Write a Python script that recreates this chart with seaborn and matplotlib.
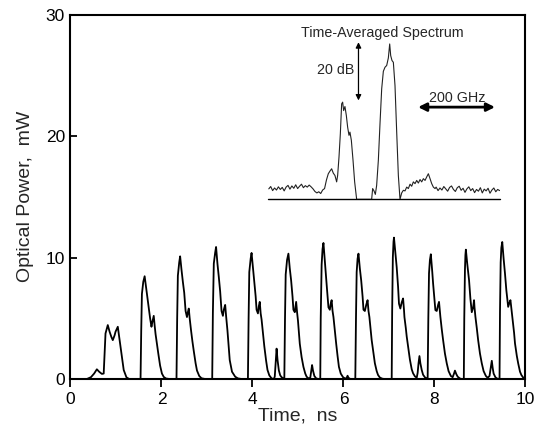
import matplotlib
matplotlib.use("Agg")
import matplotlib.pyplot as plt
import seaborn as sns
import pandas as pd

# pulse train, time in ns and optical power in mW
t_ns = [0.0, 0.36, 0.45, 0.52, 0.58, 0.63, 0.69, 0.73, 0.77, 0.82, 0.86, 0.90, 0.93, 0.97, 0.99, 1.04, 1.07, 1.12, 1.17, 1.23, 1.29,
        1.54, 1.555, 1.57, 1.60, 1.63, 1.66, 1.69, 1.72, 1.75, 1.78, 1.80, 1.83, 1.85, 1.87, 1.90, 1.93, 1.97, 2.01, 2.05, 2.10, 2.18,
        2.33, 2.345, 2.36, 2.39, 2.41, 2.44, 2.47, 2.50, 2.53, 2.56, 2.58, 2.60, 2.62, 2.65, 2.68, 2.71, 2.75, 2.78, 2.83, 2.88, 2.96,
        3.115, 3.13, 3.15, 3.18, 3.20, 3.23, 3.26, 3.29, 3.32, 3.35, 3.37, 3.40, 3.42, 3.45, 3.48, 3.50, 3.55, 3.62, 3.68, 3.76,
        3.90, 3.915, 3.93, 3.96, 3.98, 4.01, 4.04, 4.07, 4.09, 4.12, 4.14, 4.16, 4.18, 4.20, 4.23, 4.26, 4.30, 4.33, 4.37, 4.42, 4.47,
        4.49, 4.51, 4.53, 4.55, 4.58, 4.61, 4.64, 4.68,
        4.70, 4.715, 4.73, 4.76, 4.79, 4.82, 4.85, 4.88, 4.90, 4.93, 4.95, 4.96, 4.98, 5.00, 5.04, 5.08, 5.12, 5.16, 5.19, 5.23,
        5.27, 5.29, 5.31, 5.33, 5.36, 5.40, 5.45,
        5.49, 5.50, 5.52, 5.54, 5.56, 5.59, 5.61, 5.64, 5.67, 5.70, 5.72, 5.74, 5.76, 5.78, 5.81, 5.84, 5.87, 5.90, 5.94, 5.99, 6.04,
        6.07, 6.09, 6.11, 6.15,
        6.26, 6.275, 6.29, 6.31, 6.33, 6.36, 6.39, 6.42, 6.44, 6.47, 6.50, 6.53, 6.55, 6.57, 6.60, 6.62, 6.66, 6.69, 6.73, 6.76, 6.80, 6.85, 6.90,
        7.06, 7.07, 7.085, 7.10, 7.11, 7.14, 7.17, 7.20, 7.22, 7.25, 7.28, 7.31, 7.33, 7.34, 7.37, 7.39, 7.43, 7.46, 7.50, 7.53, 7.57, 7.61,
        7.63, 7.65, 7.67, 7.69, 7.72, 7.75, 7.79, 7.83,
        7.85, 7.865, 7.88, 7.90, 7.92, 7.95, 7.97, 8.00, 8.02, 8.05, 8.08, 8.10, 8.12, 8.13, 8.16, 8.19, 8.23, 8.27, 8.31, 8.36, 8.40,
        8.43, 8.45, 8.48, 8.51, 8.56, 8.60,
        8.645, 8.655, 8.67, 8.68, 8.69, 8.72, 8.76, 8.79, 8.82, 8.85, 8.87, 8.88, 8.90, 8.93, 8.96, 9.00, 9.04, 9.08, 9.13, 9.17,
        9.21, 9.24, 9.26, 9.28, 9.30, 9.34, 9.38, 9.42,
        9.43, 9.44, 9.455, 9.47, 9.49, 9.52, 9.55, 9.58, 9.62, 9.65, 9.67, 9.70, 9.72, 9.75, 9.77, 9.81, 9.84, 9.88, 9.91, 9.95, 9.99, 10.0]
power_mw = [0, 0, 0.15, 0.45, 0.8, 0.6, 0.42, 0.45, 3.75, 4.44, 3.89, 3.45, 3.2, 3.6, 3.89, 4.3, 3.47, 2.11, 0.74, 0.14, 0,
            0, 4.0, 7.0, 8.0, 8.46, 7.6, 6.7, 5.9, 5.0, 4.3, 4.7, 5.2, 4.4, 3.7, 2.9, 2.1, 1.1, 0.45, 0.17, 0.04, 0,
            0, 5.0, 8.5, 9.6, 10.1, 9.0, 8.0, 7.1, 5.6, 5.1, 5.5, 5.8, 5.0, 4.0, 3.1, 2.3, 1.3, 0.7, 0.25, 0.06, 0,
            0, 5.5, 9.5, 10.4, 10.87, 9.5, 8.4, 7.2, 5.6, 5.2, 5.7, 6.1, 5.2, 4.0, 2.6, 1.56, 0.6, 0.19, 0.05, 0,
            0, 5.0, 8.8, 9.9, 10.38, 9.2, 8.1, 6.8, 5.7, 5.4, 6.0, 6.35, 5.4, 4.9, 3.8, 2.7, 1.5, 0.75, 0.3, 0.05, 0,
            0.2, 1.4, 2.5, 1.6, 0.7, 0.3, 0.15, 0.05,
            0, 5.0, 8.6, 9.8, 10.32, 9.1, 8.1, 6.8, 5.7, 5.5, 6.1, 6.35, 5.5, 4.8, 2.9, 1.8, 1.0, 0.45, 0.19, 0.05,
            0.1, 0.6, 1.15, 0.7, 0.25, 0.05, 0,
            0, 5.0, 9.4, 10.7, 11.2, 9.7, 8.7, 7.3, 5.9, 5.7, 6.2, 6.49, 5.6, 5.1, 4.0, 2.9, 1.9, 1.0, 0.45, 0.15, 0.03,
            0.1, 0.27, 0.1, 0,
            0, 5.0, 8.8, 9.9, 10.32, 9.1, 8.1, 6.8, 5.7, 5.6, 6.1, 6.49, 5.6, 5.1, 4.0, 3.2, 2.1, 1.3, 0.65, 0.33, 0.12, 0.03, 0,
            0, 5.5, 10.0, 11.3, 11.64, 10.4, 9.2, 7.6, 6.2, 5.8, 6.3, 6.63, 5.7, 5.1, 4.2, 3.5, 2.4, 1.6, 0.8, 0.47, 0.22, 0.11,
            0.5, 1.3, 1.89, 1.3, 0.74, 0.35, 0.14, 0.03,
            0, 5.0, 8.7, 9.8, 10.27, 8.9, 7.86, 6.6, 5.67, 5.6, 6.1, 6.35, 5.5, 5.12, 4.1, 3.2, 2.1, 1.29, 0.65, 0.25, 0.15,
            0.45, 0.69, 0.4, 0.19, 0.04, 0,
            0, 5.0, 9.0, 10.2, 10.65, 9.5, 8.14, 6.6, 5.5, 5.9, 6.49, 5.9, 5.12, 4.2, 3.2, 2.1, 1.29, 0.65, 0.25, 0.1,
            0.25, 1.0, 1.5, 0.9, 0.45, 0.14, 0.03, 0,
            0, 5.5, 9.6, 10.8, 11.28, 9.9, 8.68, 7.3, 5.94, 6.3, 6.49, 5.5, 4.85, 3.8, 2.93, 1.9, 1.29, 0.6, 0.33, 0.12, 0.05, 0.03]

# inset: time-averaged spectrum, offset frequency in GHz and level in dB
spec_ghz = [-315, -310, -305, -300, -295, -290, -285, -280, -275, -270, -265, -260, -255, -250, -245, -240,
            -235, -230, -225, -220, -215, -210, -205, -200, -195, -190, -185, -180, -175, -170, -165,
            -160.3, -156, -151.6, -147.3, -143, -138.6, -136, -132.5, -129, -125.6, -123, -120.4, -117,
            -113.4, -110, -106.5, -104, -100.4, -96, -91.8, -86.6,
            -47.6, -45, -41.5, -38, -34.6, -30.2, -25.9, -21.5, -17.2, -12.9, -8.5, -4.2, -0.7, 1.9, 5.3,
            8.8, 13.1, 17.5, 21.8, 26.1,
            30.5, 34.8, 39.1, 43.5, 47.8, 52.2, 56.5, 60.8, 65.2, 69.5, 73.8, 78.2, 82.5, 86.8, 91.2,
            95.5, 99.8, 104.2, 108.5, 112.8, 117.2,
            120, 125, 130, 135, 140, 145, 150, 155, 160, 165, 170, 175, 180, 185, 190, 195, 200, 205,
            210, 215, 220, 225, 230, 235, 240, 245, 250, 255, 260, 265, 270, 275, 280, 285]
spec_db = [-49.6, -48.8, -50.2, -49.3, -50.0, -48.9, -49.8, -49.1, -50.3, -49.0, -48.4, -49.7, -48.6, -49.4, -48.2, -49.5,
           -48.7, -48.0, -49.2, -48.5, -49.0, -48.3, -48.9, -49.6, -50.5, -51.0, -50.6, -51.2, -50.0, -49.5, -46.5,
           -44.4, -43.5, -42.7, -44.2, -45.0, -47.2, -45.0, -38.7, -30.7, -20.4, -19.8, -22.7, -21.3,
           -24.4, -28.4, -31.2, -30.1, -32.9, -39.8, -47.2, -53.2,
           -53.2, -49.5, -50.3, -51.5, -48.4, -39.8, -27.2, -15.2, -9.2, -7.8, -7.2, -4.6, 0.2, -3.8, -5.5,
           -6.1, -14.1, -30.1, -45.0, -53.2,
           -51.0, -50.1, -50.3, -49.0, -49.5, -48.0, -48.7, -47.2, -47.8, -46.7, -47.6, -46.4, -47.2, -46.1, -46.7,
           -45.5, -44.4, -46.1, -47.8, -49.0, -49.5,
           -49.0, -50.2, -49.3, -50.0, -48.8, -49.6, -50.4, -49.1, -48.6, -49.8, -50.5, -49.2, -48.7, -50.1, -49.4, -50.8, -49.6, -48.9,
           -50.2, -49.5, -50.9, -49.8, -50.4, -49.2, -51.0, -49.7, -50.3, -49.4, -51.1, -50.0, -49.3, -50.6, -49.8, -50.2]

sns.set_style("ticks")
plt.rcParams['font.family'] = ['Liberation Sans', 'DejaVu Sans']

fig = plt.figure(figsize=(5.38, 4.37), dpi=100)
ax = fig.add_axes([0.131, 0.1327, 0.8457, 0.834])

trace = pd.DataFrame({'t': t_ns, 'p': power_mw})
sns.lineplot(data=trace, x='t', y='p', estimator=None, sort=False, color='black', lw=1.3, ax=ax)

ax.set_xlim(0, 10)
ax.set_ylim(0, 30)
ax.set_xticks([0, 2, 4, 6, 8, 10])
ax.set_yticks([0, 10, 20, 30])
ax.tick_params(axis='x', direction='out', length=6, width=1.3, labelsize=12.5, pad=3, colors='black')
ax.tick_params(axis='y', direction='in', length=5, width=1.3, labelsize=12.5, pad=4, colors='black')
for s in ax.spines.values():
    s.set_linewidth(1.5)
    s.set_color('black')
ax.set_xlabel("Time,  ns", fontsize=14, labelpad=1)
ax.set_ylabel("Optical Power,  mW", fontsize=14, labelpad=8)

# inset spectrum
ins = ax.inset_axes([4.35, 14.79, 5.09, 13.22], transform=ax.transData)
spec = pd.DataFrame({'f': spec_ghz, 'db': spec_db})
sns.lineplot(data=spec, x='f', y='db', estimator=None, sort=False, color='#222222', lw=0.8, ax=ins)
ins.set_xlim(-316, 286)
ins.set_ylim(-53.2, 2)
ins.axhline(-53.2, color='black', lw=1.0, clip_on=False)
ins.set_xlabel("")
ins.set_ylabel("")
ins.set_xticks([])
ins.set_yticks([])
ins.axis('off')

ax.text(6.86, 28.5, "Time-Averaged Spectrum", fontsize=10.3, ha='center', va='center')
ax.text(6.25, 25.4, "20 dB", fontsize=10.3, ha='right', va='center')
ax.annotate("", xy=(6.33, 22.93), xytext=(6.33, 27.72),
            arrowprops=dict(arrowstyle='<|-|>', lw=0.9, color='black', mutation_scale=8, shrinkA=0, shrinkB=0))
ax.text(8.50, 23.1, "200 GHz", fontsize=10.3, ha='center', va='center')
ax.annotate("", xy=(7.64, 22.38), xytext=(9.33, 22.38),
            arrowprops=dict(arrowstyle='<|-|>', lw=2.0, color='black', mutation_scale=12, shrinkA=0, shrinkB=0))

fig.savefig("out.png", dpi=100)
